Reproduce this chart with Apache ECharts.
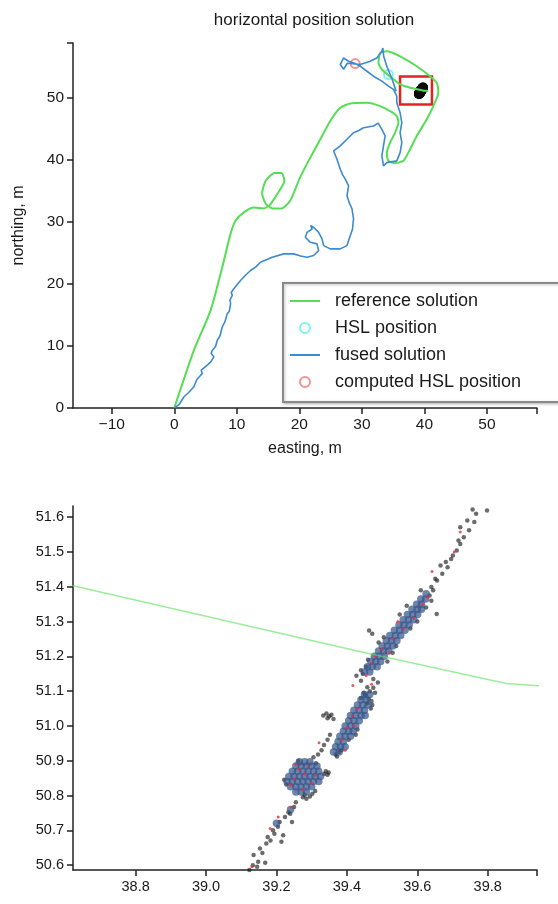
<!DOCTYPE html>
<html>
<head>
<meta charset="utf-8">
<script src="https://cdn.jsdelivr.net/npm/echarts@6/dist/echarts.min.js"></script>
<style>
  html, body { margin: 0; padding: 0; background: #fff; }
  #chart { width: 558px; height: 904px; }
</style>
</head>
<body>
<div id="chart"></div>
<script>
// reference (ground truth) trajectory, east/north in m
const refPath = [
  [0, 0], [3.14, 9.31], [5.81, 15.73], [7.67, 22.68], [9.0, 28.09], [9.79, 30.18],
  [11.12, 31.51], [12.71, 32.28], [14.31, 32.15], [15.28, 32.73], [16.59, 34.67],
  [17.61, 36.57], [17.15, 37.87], [16.01, 37.87], [14.59, 36.57], [14.04, 34.56],
  [14.59, 32.95], [15.73, 32.15], [17.15, 32.15], [18.56, 33.42], [19.98, 36.84],
  [21.4, 39.69], [23.35, 43.29], [24.94, 46.23], [26.54, 48.36], [28.13, 49.07],
  [30.8, 49.17], [32.92, 48.64], [34.52, 47.83], [35.58, 47.03], [35.84, 45.96],
  [35.31, 44.35], [34.51, 42.75], [33.99, 41.14], [34.24, 39.81], [35.31, 39.44],
  [36.63, 39.81], [37.43, 41.14], [38.77, 43.82], [40.37, 46.5], [41.42, 48.64],
  [42.22, 50.77], [41.96, 52.38], [40.89, 53.45], [38.77, 55.06], [36.11, 56.66],
  [33.99, 57.46], [32.92, 57.19], [32.65, 55.59], [33.19, 54.53], [34.78, 53.18],
  [36.11, 52.12], [37.7, 51.6], [38.622, 51.403], [39.427, 51.216], [39.853, 51.122],
  [39.934, 51.116], [40.6, 51.08]
];

// fused solution trajectory
const fusedPath = [
  [0, 0], [0.8, 0.6], [1.55, 1.81], [2.3, 2.5], [3.14, 3.42], [3.6, 4.6], [4.48, 5.57],
  [4.3, 6.1], [5.28, 6.9], [5.8, 7.4], [6.33, 8.23], [5.9, 8.8], [6.08, 9.31], [6.6, 9.9],
  [6.87, 10.91], [7.3, 11.6], [7.67, 13.05], [8.1, 13.9], [8.47, 15.2], [8.8, 15.6],
  [9.0, 16.81], [8.9, 17.4], [9.27, 18.14], [9.1, 18.6], [9.52, 19.21], [10.59, 20.55],
  [11.3, 21.3], [12.19, 22.15], [13.0, 22.7], [13.78, 23.48], [15.65, 24.29], [17.5, 24.83],
  [19.09, 24.83], [20.2, 24.5], [21.23, 24.29], [22.28, 24.56], [23.08, 25.36], [22.82, 26.44],
  [21.75, 26.69], [20.96, 27.5], [21.23, 28.3], [22.03, 28.84], [21.8, 29.4], [22.4, 29.0],
  [23.08, 28.3], [23.62, 27.24], [23.88, 26.16], [24.94, 25.63], [26.54, 25.63], [27.61, 26.16],
  [28.5, 28.84], [28.66, 30.5], [28.41, 32.1], [28.0, 33.0], [27.61, 34.19], [27.87, 35.79],
  [27.34, 36.87], [26.9, 37.6], [26.54, 38.47], [26.01, 40.08], [25.48, 41.41], [26.54, 42.22],
  [27.61, 43.29], [28.66, 44.35], [29.5, 44.7], [30.26, 45.15], [31.85, 45.43], [32.6, 45.9],
  [33.19, 44.9], [33.72, 43.82], [33.45, 42.22], [33.19, 40.61], [33.45, 39.0], [33.99, 39.53],
  [35.58, 39.81], [36.11, 41.14], [36.38, 42.74], [36.11, 44.35], [36.38, 45.96], [36.11, 47.56],
  [35.58, 49.17], [35.58, 50.24], [35.04, 51.32], [34.24, 51.85], [33.19, 52.65], [31.85, 53.45],
  [30.8, 54.25], [29.73, 55.06], [28.93, 55.49], [27.86, 55.86], [27.07, 56.39], [26.54, 55.33],
  [27.07, 54.57], [27.66, 55.54], [29.73, 55.33], [31.32, 55.86], [32.39, 56.39], [33.19, 57.46],
  [33.35, 57.99], [33.48, 56.66], [34.04, 54.9], [34.83, 52.97], [35.47, 51.04]
];

const hslPosition = [[34.24, 53.72]];
const computedHsl = [[28.93, 55.49]];
const zoomBox = [[36.1, 48.9], [41.2, 53.4]];

// zoomed-in points (bottom panel)
const blackPts = [
  [39.123, 50.586], [39.133, 50.600], [39.135, 50.629], [39.148, 50.610], [39.168, 50.607],
  [39.153, 50.648], [39.171, 50.662], [39.183, 50.671], [39.175, 50.681], [39.194, 50.690],
  [39.214, 50.667], [39.219, 50.686], [39.204, 50.710], [39.209, 50.724], [39.224, 50.738],
  [39.244, 50.724], [39.234, 50.752], [39.250, 50.767], [39.239, 50.748], [39.255, 50.781],
  [39.145, 50.595], [39.160, 50.635], [39.190, 50.700],
  [39.275, 50.795], [39.285, 50.791], [39.295, 50.797], [39.302, 50.805], [39.310, 50.813],
  [39.280, 50.802], [39.335, 50.862], [39.345, 50.860], [39.340, 50.870], [39.348, 50.866],
  [39.222, 50.845], [39.228, 50.832], [39.262, 50.899], [39.312, 50.893],
  [39.305, 50.910], [39.318, 50.918], [39.328, 50.930], [39.335, 50.945], [39.345, 50.960],
  [39.352, 50.975],
  [39.333, 51.030], [39.342, 51.036], [39.350, 51.028], [39.345, 51.022], [39.356, 51.032],
  [39.362, 51.020], [39.440, 51.080], [39.452, 51.088], [39.462, 51.078], [39.470, 51.072],
  [39.458, 51.065], [39.448, 51.095], [39.465, 51.100], [39.475, 51.110], [39.480, 51.095],
  [39.472, 51.060], [39.468, 51.050], [39.368, 50.918], [39.372, 50.912], [39.378, 50.925],
  [39.430, 50.990], [39.425, 50.975], [39.385, 50.930], [39.405, 50.960],
  [39.427, 51.144], [39.458, 51.111], [39.488, 51.125], [39.440, 51.130], [39.475, 51.135],
  [39.440, 51.160], [39.445, 51.150], [39.455, 51.170], [39.463, 51.274], [39.472, 51.265],
  [39.515, 51.185], [39.530, 51.210], [39.490, 51.240], [39.505, 51.255], [39.580, 51.280],
  [39.600, 51.300], [39.625, 51.340], [39.640, 51.360], [39.655, 51.322], [39.635, 51.375],
  [39.645, 51.390], [39.610, 51.390], [39.570, 51.345], [39.550, 51.320], [39.460, 51.190],
  [39.540, 51.230],
  [39.640, 51.399], [39.656, 51.418], [39.671, 51.437], [39.686, 51.456], [39.696, 51.480],
  [39.712, 51.504], [39.722, 51.523], [39.732, 51.542], [39.747, 51.562], [39.762, 51.586],
  [39.767, 51.610], [39.757, 51.622], [39.798, 51.619], [39.717, 51.533], [39.701, 51.490],
  [39.681, 51.471], [39.722, 51.571], [39.742, 51.590], [39.666, 51.461], [39.651, 51.423]
];

const bluePts = [
  [39.255, 50.810], [39.270, 50.810], [39.285, 50.810],
  [39.240, 50.825], [39.255, 50.825], [39.270, 50.825], [39.285, 50.825], [39.300, 50.825],
  [39.230, 50.840], [39.245, 50.840], [39.260, 50.840], [39.275, 50.840], [39.290, 50.840],
  [39.305, 50.840], [39.320, 50.840],
  [39.235, 50.855], [39.250, 50.855], [39.265, 50.855], [39.280, 50.855], [39.295, 50.855],
  [39.310, 50.855], [39.325, 50.855],
  [39.245, 50.870], [39.260, 50.870], [39.275, 50.870], [39.290, 50.870], [39.305, 50.870],
  [39.320, 50.870],
  [39.255, 50.885], [39.270, 50.885], [39.285, 50.885], [39.300, 50.885], [39.315, 50.885],
  [39.265, 50.897], [39.280, 50.897], [39.295, 50.897],
  [39.362, 50.925], [39.378, 50.925], [39.368, 50.940], [39.382, 50.940], [39.395, 50.940],
  [39.375, 50.955], [39.390, 50.955], [39.380, 50.970], [39.395, 50.970], [39.410, 50.970],
  [39.390, 50.985], [39.405, 50.985], [39.418, 50.985], [39.395, 51.000], [39.410, 51.000],
  [39.425, 51.000], [39.405, 51.015], [39.420, 51.015], [39.435, 51.015], [39.410, 51.030],
  [39.425, 51.030], [39.440, 51.030], [39.452, 51.030], [39.420, 51.045], [39.435, 51.045],
  [39.450, 51.045], [39.430, 51.060], [39.445, 51.060], [39.460, 51.060], [39.440, 51.075],
  [39.455, 51.075], [39.450, 51.090], [39.465, 51.090],
  [39.450, 51.155], [39.465, 51.155], [39.458, 51.170], [39.472, 51.170], [39.486, 51.170],
  [39.468, 51.185], [39.482, 51.185], [39.496, 51.185], [39.478, 51.200], [39.492, 51.200],
  [39.506, 51.200], [39.490, 51.215], [39.504, 51.215], [39.518, 51.215], [39.500, 51.230],
  [39.515, 51.230], [39.530, 51.230], [39.512, 51.245], [39.527, 51.245], [39.542, 51.245],
  [39.522, 51.260], [39.538, 51.260], [39.553, 51.260], [39.535, 51.275], [39.550, 51.275],
  [39.565, 51.275], [39.548, 51.290], [39.562, 51.290], [39.577, 51.290], [39.560, 51.305],
  [39.575, 51.305], [39.590, 51.305], [39.572, 51.320], [39.587, 51.320], [39.601, 51.320],
  [39.585, 51.335], [39.600, 51.335], [39.612, 51.335], [39.598, 51.350], [39.612, 51.350],
  [39.610, 51.365], [39.624, 51.365], [39.625, 51.380],
  [39.200, 50.720], [39.240, 50.760]
];

const redPts = [
  [39.250, 50.848], [39.280, 50.862], [39.300, 50.835], [39.265, 50.875], [39.290, 50.882],
  [39.240, 50.830], [39.310, 50.858], [39.275, 50.818], [39.255, 50.890],
  [39.385, 50.960], [39.400, 50.995], [39.415, 51.030], [39.430, 51.050], [39.395, 50.930],
  [39.420, 51.000], [39.321, 50.952],
  [39.417, 51.116], [39.470, 51.120],
  [39.470, 51.180], [39.500, 51.220], [39.530, 51.250], [39.560, 51.280], [39.590, 51.310],
  [39.615, 51.350], [39.480, 51.200], [39.545, 51.300], [39.455, 51.145], [39.520, 51.210],
  [39.630, 51.370],
  [39.642, 51.444], [39.722, 51.557], [39.705, 51.500],
  [39.182, 50.705], [39.130, 50.595], [39.205, 50.738], [39.243, 50.766]
];

const topTicksX = [-10, 0, 10, 20, 30, 40, 50];
const topTicksY = [0, 10, 20, 30, 40, 50];
const zoomTicksX = [38.8, 39.0, 39.2, 39.4, 39.6, 39.8];
const zoomTicksY = [50.6, 50.7, 50.8, 50.9, 51.0, 51.1, 51.2, 51.3, 51.4, 51.5, 51.6];

const FONT = 'Liberation Sans, Arial, sans-serif';
const TXT = '#1a1a1a';
const LINE_ICON = 'path://M0,0L30,0L30,2L0,2Z';

const chart = echarts.init(document.getElementById('chart'), null, { renderer: 'canvas' });

function axisStyle(min, max, labels, ticks, fmt, fontSize) {
  return {
    type: 'value',
    min: min,
    max: max,
    splitLine: { show: false },
    axisLine: { onZero: false, lineStyle: { color: '#222', width: 1.5 } },
    axisTick: { inside: false, length: 6, customValues: ticks, lineStyle: { color: '#222', width: 1.5 } },
    axisLabel: {
      customValues: labels,
      color: TXT,
      fontSize: fontSize,
      fontFamily: FONT,
      margin: 9,
      formatter: fmt
    },
    nameTextStyle: { color: TXT, fontSize: 16, fontFamily: FONT }
  };
}

const minus = (v) => String(v).replace('-', '\u2212');
const oneDec = (v) => Number(v).toFixed(1);

chart.setOption({
  backgroundColor: '#fff',
  animation: false,
  title: {
    text: 'horizontal position solution',
    left: 309,
    top: 7,
    textAlign: 'center',
    textStyle: { fontSize: 17, fontWeight: 'normal', color: TXT, fontFamily: FONT }
  },
  legend: {
    data: [
      { name: 'reference solution', icon: LINE_ICON },
      { name: 'HSL position' },
      { name: 'fused solution', icon: LINE_ICON },
      { name: 'computed HSL position' }
    ],
    orient: 'vertical',
    left: 283,
    top: 283,
    itemWidth: 30,
    itemHeight: 10,
    itemGap: 7,
    padding: [8, 60, 10, 7],
    borderColor: '#8a8a8a',
    borderWidth: 2,
    backgroundColor: '#fff',
    shadowBlur: 3,
    shadowColor: 'rgba(0,0,0,0.25)',
    shadowOffsetX: 1,
    shadowOffsetY: 1,
    textStyle: { fontSize: 18, color: TXT, fontFamily: FONT, lineHeight: 20, padding: [0, 0, 0, 10] }
  },
  grid: [
    { left: 73, top: 43, width: 464, height: 365 },
    { left: 73, top: 506, width: 464, height: 364 }
  ],
  xAxis: [
    Object.assign(axisStyle(-16.2, 58, topTicksX, topTicksX.concat([58]), minus, 15.5), {
      gridIndex: 0, name: 'easting, m', nameLocation: 'middle', nameGap: 33
    }),
    Object.assign(axisStyle(38.622, 39.94, zoomTicksX, zoomTicksX.concat([39.94]), oneDec, 14.5), {
      gridIndex: 1
    })
  ],
  yAxis: [
    Object.assign(axisStyle(0, 58.8, topTicksY, topTicksY.concat([58.8]), minus, 15.5), {
      gridIndex: 0, name: 'northing, m', nameLocation: 'middle', nameGap: 46
    }),
    Object.assign(axisStyle(50.586, 51.632, zoomTicksY, zoomTicksY, oneDec, 14.5), {
      gridIndex: 1
    })
  ],
  series: [
    {
      name: 'reference solution',
      type: 'line',
      xAxisIndex: 0, yAxisIndex: 0,
      data: refPath,
      symbol: 'none',
      smooth: 0.2,
      color: '#55dd55',
      lineStyle: { color: '#55dd55', width: 2 }
    },
    {
      name: 'fused solution',
      type: 'line',
      xAxisIndex: 0, yAxisIndex: 0,
      data: fusedPath,
      symbol: 'none',
      color: '#3d8ad0',
      lineStyle: { color: '#3d8ad0', width: 1.6 }
    },
    {
      name: 'HSL position',
      type: 'scatter',
      xAxisIndex: 0, yAxisIndex: 0,
      data: hslPosition,
      symbol: 'emptyCircle',
      symbolSize: 9,
      itemStyle: { color: '#62eef2', borderWidth: 1.8 }
    },
    {
      name: 'computed HSL position',
      type: 'scatter',
      xAxisIndex: 0, yAxisIndex: 0,
      data: computedHsl,
      symbol: 'emptyCircle',
      symbolSize: 9,
      itemStyle: { color: '#f07878', borderWidth: 1.8 }
    },
    {
      name: 'zoom blob',
      type: 'scatter',
      xAxisIndex: 0, yAxisIndex: 0,
      data: blackPts,
      symbolSize: 10,
      itemStyle: { color: 'rgba(15,15,15,0.85)' },
      markArea: {
        silent: true,
        itemStyle: { color: 'rgba(0,0,0,0)', borderColor: '#e42222', borderWidth: 2.5 },
        data: [[{ coord: zoomBox[0] }, { coord: zoomBox[1] }]]
      }
    },
    {
      name: 'reference (zoom)',
      type: 'line',
      xAxisIndex: 1, yAxisIndex: 1,
      data: refPath,
      symbol: 'none',
      lineStyle: { color: '#5de05d', width: 1.6, opacity: 0.6 }
    },
    {
      name: 'black (zoom)',
      type: 'scatter',
      xAxisIndex: 1, yAxisIndex: 1,
      data: blackPts,
      symbolSize: 4.5,
      itemStyle: { color: 'rgba(25,25,25,0.8)' }
    },
    {
      name: 'fused (zoom)',
      type: 'scatter',
      xAxisIndex: 1, yAxisIndex: 1,
      data: bluePts,
      symbolSize: 7.5,
      itemStyle: { color: 'rgba(52,84,138,0.9)' }
    },
    {
      name: 'computed (zoom)',
      type: 'scatter',
      xAxisIndex: 1, yAxisIndex: 1,
      data: redPts,
      symbolSize: 3,
      itemStyle: { color: '#e8303a' }
    }
  ]
});

window.addEventListener('resize', () => chart.resize());
</script>
</body>
</html>
